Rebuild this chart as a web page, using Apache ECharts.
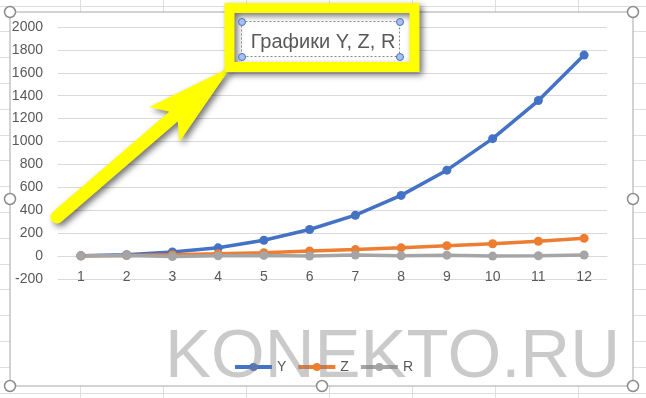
<!DOCTYPE html>
<html>
<head>
<meta charset="utf-8">
<script src="https://cdn.jsdelivr.net/npm/echarts@6/dist/echarts.min.js"></script>
<style>
  html, body { margin: 0; padding: 0; background: #fff; }
  #chart { width: 646px; height: 398px; }
</style>
</head>
<body>
<div id="chart"></div>
<script>
// data
const categories = ['1', '2', '3', '4', '5', '6', '7', '8', '9', '10', '11', '12']
const yValues = [3, 12, 36, 72, 138, 232, 357, 530, 750, 1025, 1358, 1755]
const zValues = [2, 6, 12, 20, 30, 44, 57, 72, 90, 108, 130, 155]
const rValues = [1, 5, -4, 2, 6, 1, 10, 3, 8, 0, 3, 10]
const seriesNames = ['Y', 'Z', 'R']
const colors = ['#4472C4', '#ED7D31', '#A5A5A5']
const titleText = 'Графики Y, Z, R'
const watermark = 'KONEKTO.RU'

const textColor = '#595959'
const chart = echarts.init(document.getElementById('chart'))

// excel sheet grid behind the chart object
const sheet = []
for (let x = 80; x < 646; x += 83) {
  sheet.push({ type: 'line', z: -2, silent: true, shape: { x1: x + 0.5, y1: 0, x2: x + 0.5, y2: 398 }, style: { stroke: '#dedede', lineWidth: 1 } })
}
for (let y = 5.5; y < 398; y += 25.8) {
  const yy = Math.round(y) + 0.5
  sheet.push({ type: 'line', z: -2, silent: true, shape: { x1: 0, y1: yy, x2: 646, y2: yy }, style: { stroke: '#dedede', lineWidth: 1 } })
}
sheet.push({ type: 'rect', z: -1, silent: true, shape: { x: 10, y: 12, width: 623, height: 374 }, style: { fill: '#fff', stroke: '#a6a6a6', lineWidth: 1 } })

// selection handles of the chart object
const handles = [[10, 12], [322, 12], [633, 12], [10, 199], [633, 199], [10, 386], [322, 386], [633, 386]].map(p => ({
  type: 'circle', z: 1, silent: true,
  shape: { cx: p[0], cy: p[1], r: 5.5 },
  style: { fill: '#fff', stroke: '#8c8c8c', lineWidth: 1.5 }
}))

// yellow arrow pointing at the title
function arrowPoints(x0, y0, x1, y1) {
  const len = Math.hypot(x1 - x0, y1 - y0)
  const ux = (x1 - x0) / len, uy = (y1 - y0) / len
  const px = -uy, py = ux
  const w = 6.5
  const at = (t, s) => [x0 + ux * t + px * s, y0 + uy * t + py * s]
  const pts = [at(0, -w), at(len - 76, -w), at(len - 88, -23), at(len, 0), at(len - 88, 23), at(len - 76, w), at(0, w)]
  for (let i = 1; i < 10; i++) {
    const a = Math.PI / 2 - i * Math.PI / 10
    pts.push(at(-Math.cos(a) * w, Math.sin(a) * w))
  }
  return pts
}

const shadow = { shadowColor: 'rgba(0,0,0,0.55)', shadowBlur: 6, shadowOffsetX: 3, shadowOffsetY: 3 }

const overlay = [
  {
    type: 'polygon', z: 10, silent: true,
    shape: { points: arrowPoints(57, 217, 231, 67) },
    style: Object.assign({ fill: '#ffff00' }, shadow)
  },
  {
    type: 'rect', z: 10, silent: true,
    shape: { x: 234, y: 13, width: 176, height: 49 },
    style: { fill: '#fff' }
  },
  {
    type: 'rect', z: 10, silent: true,
    shape: { x: 229.5, y: 8, width: 185, height: 59 },
    style: Object.assign({ fill: null, stroke: '#ffff00', lineWidth: 10 }, shadow)
  },
  {
    type: 'rect', z: 11, silent: true,
    shape: { x: 241.5, y: 21.5, width: 158, height: 35 },
    style: { fill: null, stroke: '#8a8a8a', lineWidth: 1, lineDash: [2, 2] }
  }
]
;[[242, 22], [400, 22], [242, 57], [400, 57]].forEach(p => {
  overlay.push({
    type: 'circle', z: 12, silent: true,
    shape: { cx: p[0], cy: p[1], r: 3.5 },
    style: { fill: '#a9c0e8', stroke: '#4472C4', lineWidth: 1 }
  })
})
overlay.push({
  type: 'text', z: 20, silent: true,
  x: 165, y: 358,
  style: {
    text: watermark, fill: 'rgba(128,128,128,0.42)',
    font: '69px "Liberation Sans", Arial, sans-serif',
    verticalAlign: 'middle', align: 'left'
  }
})

function lineSeries(name, data, color) {
  return {
    name: name,
    type: 'line',
    data: data,
    symbol: 'circle',
    symbolSize: 9,
    lineStyle: { width: 3.5, color: color },
    itemStyle: { color: color },
    emphasis: { disabled: true }
  }
}

chart.setOption({
  animation: false,
  color: colors,
  textStyle: { fontFamily: '"Liberation Sans", Arial, sans-serif' },
  title: {
    text: titleText,
    left: 'center',
    top: 27,
    z: 15,
    textStyle: { color: textColor, fontSize: 20, fontWeight: 'normal' }
  },
  legend: {
    data: seriesNames,
    left: 'center',
    top: 355,
    itemWidth: 37,
    itemHeight: 10,
    itemGap: 10,
    lineStyle: { width: 4 },
    textStyle: { color: textColor, fontSize: 14 }
  },
  grid: { left: 58, right: 39, top: 27, bottom: 119 },
  xAxis: {
    type: 'category',
    data: categories,
    boundaryGap: true,
    axisLine: { onZero: true, lineStyle: { color: '#d9d9d9', width: 1 } },
    axisTick: { show: false },
    axisLabel: { color: textColor, fontSize: 14, margin: -9 }
  },
  yAxis: {
    type: 'value',
    min: -200,
    max: 2000,
    interval: 200,
    axisLine: { show: false },
    axisTick: { show: false },
    axisLabel: { color: textColor, fontSize: 14, margin: 15, formatter: v => String(v) },
    splitLine: { lineStyle: { color: '#d9d9d9', width: 1 } }
  },
  graphic: sheet.concat(handles, overlay),
  series: [
    lineSeries(seriesNames[0], yValues, colors[0]),
    lineSeries(seriesNames[1], zValues, colors[1]),
    lineSeries(seriesNames[2], rValues, colors[2])
  ]
})
</script>
</body>
</html>
